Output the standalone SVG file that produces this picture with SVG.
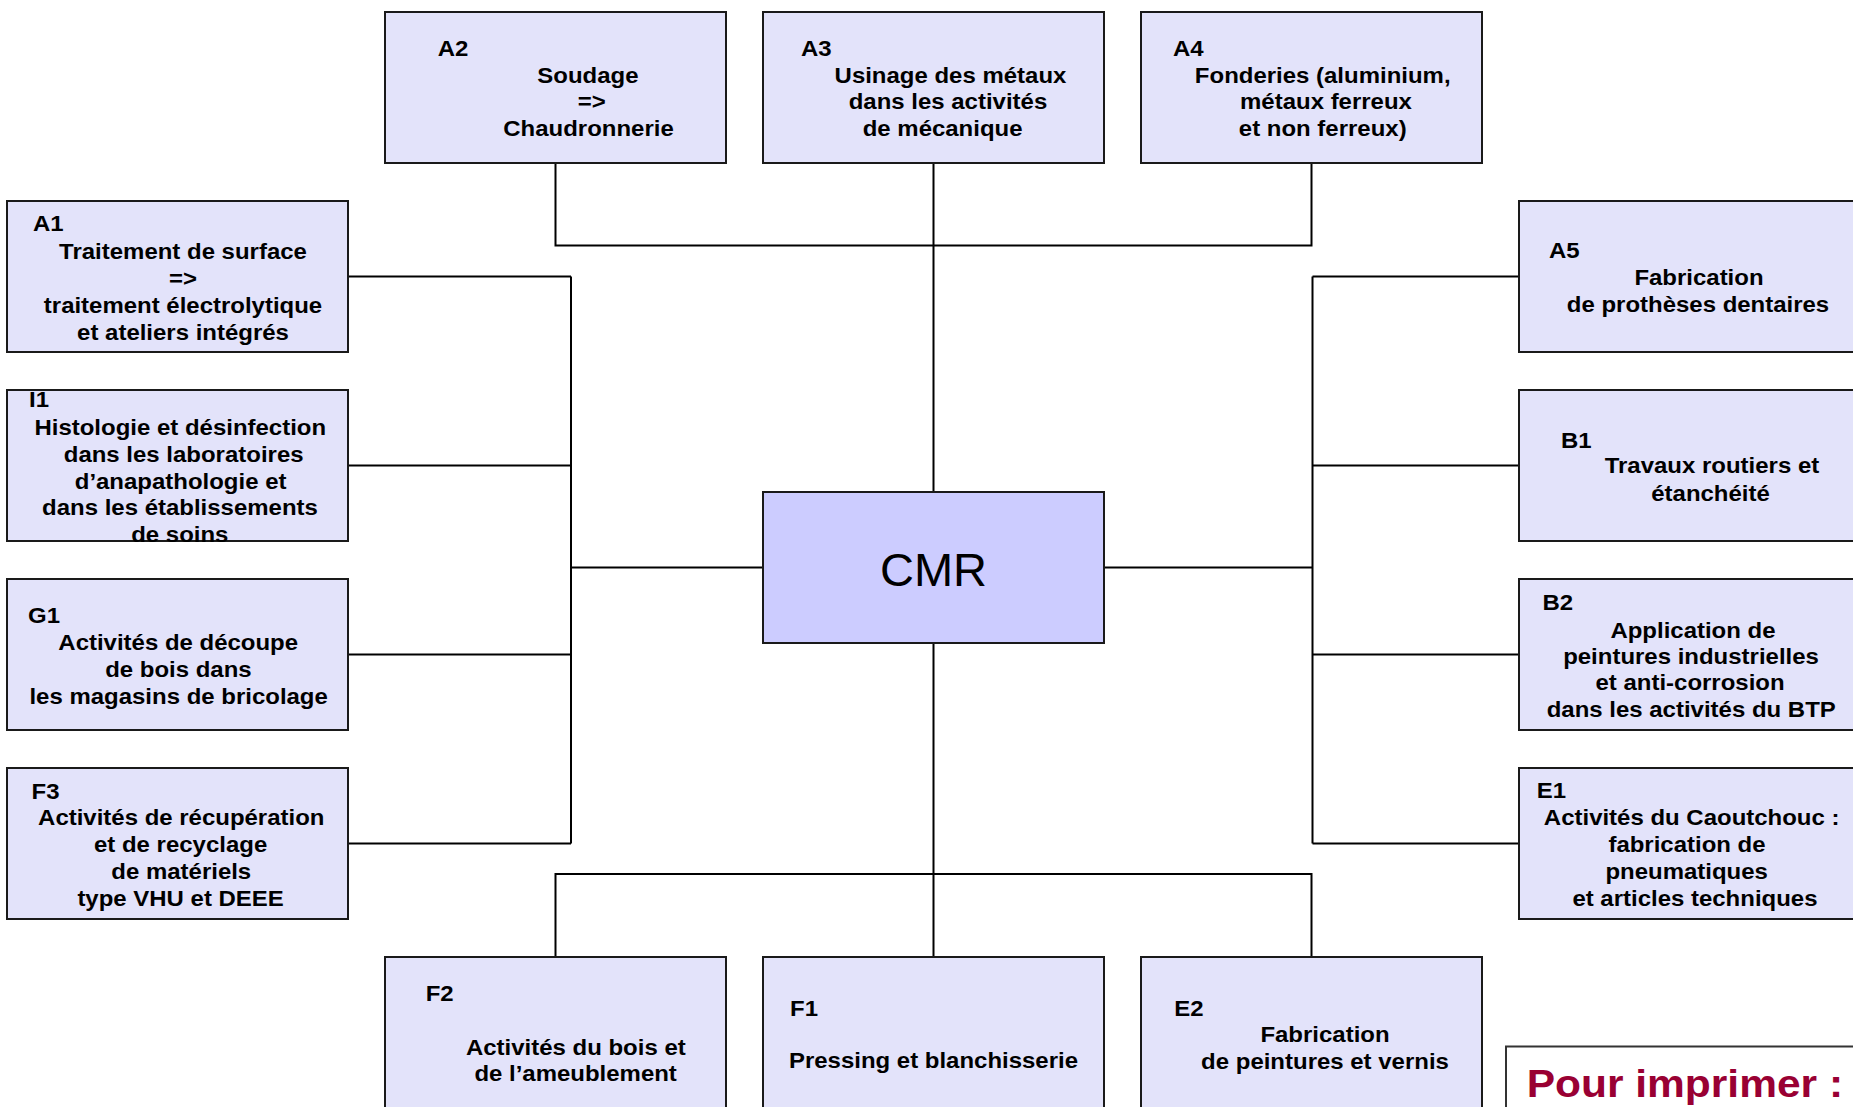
<svg xmlns="http://www.w3.org/2000/svg" width="1853" height="1107" viewBox="0 0 1853 1107">
<style>
.box{fill:#E3E3FA;stroke:#1a1a1a;stroke-width:2}
.core{fill:#CCCCFF;stroke:#1a1a1a;stroke-width:2}
.print{fill:#FFFFFF;stroke:#333333;stroke-width:2}
.t{font-family:"Liberation Sans",Arial,sans-serif;font-weight:bold;font-size:22px;fill:#000}
.c{text-anchor:middle}
.cmr{font-family:"Liberation Sans",Arial,sans-serif;font-size:47px;fill:#000;text-anchor:middle}
.pr{font-family:"Liberation Sans",Arial,sans-serif;font-weight:bold;font-size:39px;fill:#990033}
.ln{fill:none;stroke:#000;stroke-width:2}
</style>
<rect width="1853" height="1107" fill="#FFFFFF"/>
<g id="connectors">
<path class="ln" d="M555.5 163 V245.5 H1311.5 V163"/>
<path class="ln" d="M933.5 163 V492"/>
<path class="ln" d="M348 276.5 H571 M348 465.5 H571 M348 654.5 H571 M348 843.5 H571 M571 276.5 V843.5 M571 567.5 H763"/>
<path class="ln" d="M1519 276.5 H1312.5 M1519 465.5 H1312.5 M1519 654.5 H1312.5 M1519 843.5 H1312.5 M1312.5 276.5 V843.5 M1312.5 567.5 H1104"/>
<path class="ln" d="M933.5 643 V957 M555.5 957 V874 H1311.5 V957"/>
</g>
<g id="A2">
<rect class="box" x="385" y="12" width="341" height="151"/>
<g transform="scale(1.09 1)" class="t">
<text x="401.6" y="56">A2</text>
<text class="c" x="539.4" y="83">Soudage</text>
<text class="c" x="542.8" y="109.5">=&gt;</text>
<text class="c" x="539.9" y="136">Chaudronnerie</text>
</g>
</g>
<g id="A3">
<rect class="box" x="763" y="12" width="341" height="151"/>
<g transform="scale(1.09 1)" class="t">
<text x="734.9" y="56">A3</text>
<text class="c" x="872" y="83">Usinage des métaux</text>
<text class="c" x="869.7" y="109.5">dans les activités</text>
<text class="c" x="864.8" y="136">de mécanique</text>
</g>
</g>
<g id="A4">
<rect class="box" x="1141" y="12" width="341" height="151"/>
<g transform="scale(1.09 1)" class="t">
<text x="1076.1" y="56">A4</text>
<text class="c" x="1213.5" y="83">Fonderies (aluminium,</text>
<text class="c" x="1216.5" y="109.5">métaux ferreux</text>
<text class="c" x="1213.5" y="136">et non ferreux)</text>
</g>
</g>
<g id="A1">
<rect class="box" x="7" y="201" width="341" height="151"/>
<g transform="scale(1.09 1)" class="t">
<text x="30.3" y="231.5">A1</text>
<text class="c" x="167.9" y="259">Traitement de surface</text>
<text class="c" x="167.9" y="286">=&gt;</text>
<text class="c" x="167.9" y="313">traitement électrolytique</text>
<text class="c" x="167.9" y="340">et ateliers intégrés</text>
</g>
</g>
<g id="I1">
<rect class="box" x="7" y="390" width="341" height="151"/>
<g transform="scale(1.09 1)" class="t">
<text x="26.6" y="407">I1</text>
<text class="c" x="165.4" y="435">Histologie et désinfection</text>
<text class="c" x="168.5" y="462">dans les laboratoires</text>
<text class="c" x="165.7" y="489">d’anapathologie et</text>
<text class="c" x="165.1" y="515.5">dans les établissements</text>
<text class="c" x="165" y="542">de soins</text>
</g>
</g>
<g id="G1">
<rect class="box" x="7" y="579" width="341" height="151"/>
<g transform="scale(1.09 1)" class="t">
<text x="25.7" y="623">G1</text>
<text class="c" x="163.5" y="650.5">Activités de découpe</text>
<text class="c" x="163.7" y="677.3">de bois dans</text>
<text class="c" x="163.9" y="704">les magasins de bricolage</text>
</g>
</g>
<g id="F3">
<rect class="box" x="7" y="768" width="341" height="151"/>
<g transform="scale(1.09 1)" class="t">
<text x="28.9" y="798.7">F3</text>
<text class="c" x="166.3" y="825.5">Activités de récupération</text>
<text class="c" x="165.7" y="852.2">et de recyclage</text>
<text class="c" x="166.3" y="879">de matériels</text>
<text class="c" x="165.7" y="905.8">type VHU et DEEE</text>
</g>
</g>
<g id="A5">
<rect class="box" x="1519" y="201" width="341" height="151"/>
<g transform="scale(1.09 1)" class="t">
<text x="1421.1" y="258">A5</text>
<text class="c" x="1558.7" y="285.5">Fabrication</text>
<text class="c" x="1557.8" y="312">de prothèses dentaires</text>
</g>
</g>
<g id="B1">
<rect class="box" x="1519" y="390" width="341" height="151"/>
<g transform="scale(1.09 1)" class="t">
<text x="1432.1" y="448.3">B1</text>
<text class="c" x="1570.6" y="473.5">Travaux routiers et</text>
<text class="c" x="1569.3" y="501.5">étanchéité</text>
</g>
</g>
<g id="B2">
<rect class="box" x="1519" y="579" width="341" height="151"/>
<g transform="scale(1.09 1)" class="t">
<text x="1415.1" y="610.5">B2</text>
<text class="c" x="1553.2" y="638">Application de</text>
<text class="c" x="1551.4" y="664">peintures industrielles</text>
<text class="c" x="1550.5" y="690.5">et anti-corrosion</text>
<text class="c" x="1551.6" y="717">dans les activités du BTP</text>
</g>
</g>
<g id="E1">
<rect class="box" x="1519" y="768" width="341" height="151"/>
<g transform="scale(1.09 1)" class="t">
<text x="1409.8" y="798">E1</text>
<text class="c" x="1552" y="825.5">Activités du Caoutchouc :</text>
<text class="c" x="1547.7" y="852.2">fabrication de</text>
<text class="c" x="1547.4" y="879">pneumatiques</text>
<text class="c" x="1555" y="905.8">et articles techniques</text>
</g>
</g>
<g id="CMR">
<rect class="core" x="763" y="492" width="341" height="151"/>
<text class="cmr" x="933.5" y="586">CMR</text>
</g>
<g id="F2">
<rect class="box" x="385" y="957" width="341" height="160"/>
<g transform="scale(1.09 1)" class="t">
<text x="390.5" y="1001.5">F2</text>
<text class="c" x="528.3" y="1055">Activités du bois et</text>
<text class="c" x="528.1" y="1081.5">de l’ameublement</text>
</g>
</g>
<g id="F1">
<rect class="box" x="763" y="957" width="341" height="160"/>
<g transform="scale(1.09 1)" class="t">
<text x="724.8" y="1016">F1</text>
<text class="c" x="856.4" y="1068.5">Pressing et blanchisserie</text>
</g>
</g>
<g id="E2">
<rect class="box" x="1141" y="957" width="341" height="160"/>
<g transform="scale(1.09 1)" class="t">
<text x="1077.4" y="1015.7">E2</text>
<text class="c" x="1215.6" y="1042">Fabrication</text>
<text class="c" x="1215.6" y="1069">de peintures et vernis</text>
</g>
</g>
<g id="print">
<rect class="print" x="1506" y="1046.5" width="360" height="80"/>
<g transform="scale(1.09 1)">
<text class="pr" x="1400.6" y="1097">Pour imprimer :</text>
</g>
</g>
</svg>
